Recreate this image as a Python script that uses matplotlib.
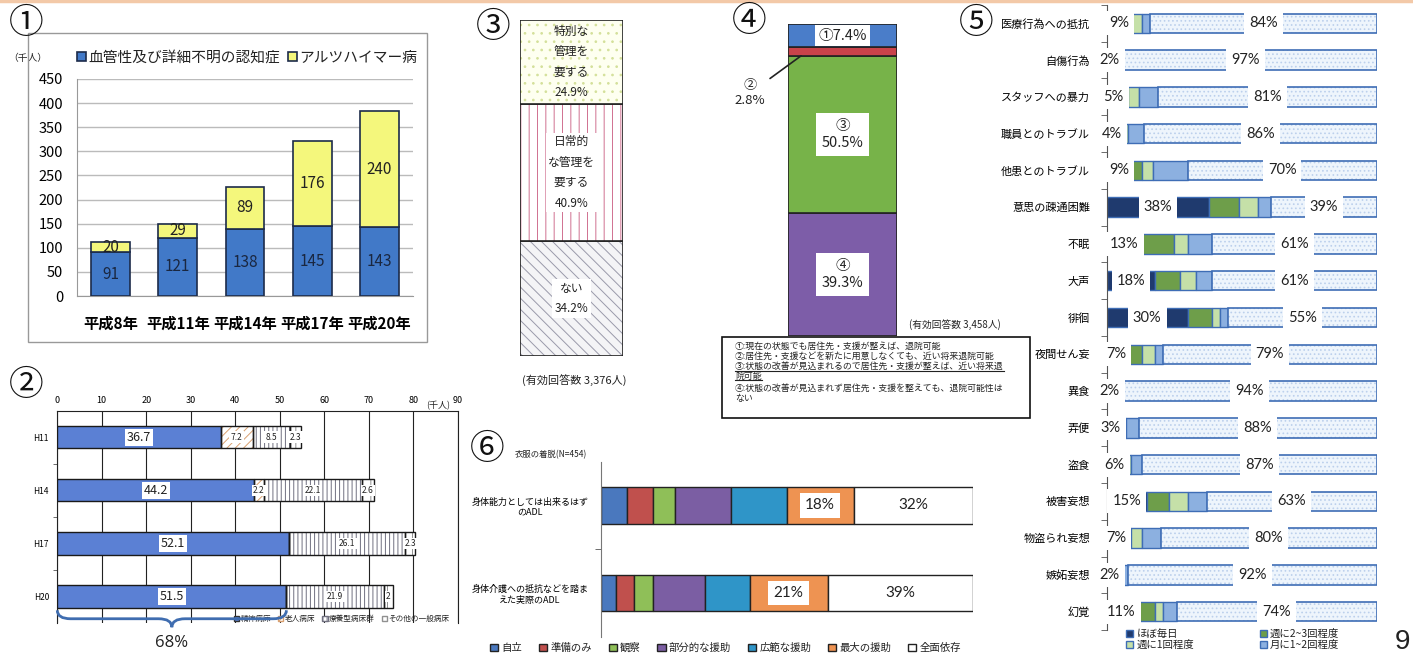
import numpy as np
import matplotlib
matplotlib.use('Agg')
import matplotlib.pyplot as plt
from matplotlib.patches import Patch, Rectangle, PathPatch
from matplotlib.path import Path

plt.rcParams['font.family'] = ['Noto Sans CJK JP', 'DejaVu Sans']
plt.rcParams['hatch.linewidth'] = 0.7
plt.rcParams['text.color'] = '#222222'

W, H = 1413, 657

# ---- data ----
# (1) dementia patients
years = ['平成8年', '平成11年', '平成14年', '平成17年', '平成20年']
vascular = [91, 121, 138, 145, 143]
alzheimer = [20, 29, 89, 176, 240]

# (2) beds
wards = ['H11', 'H14', 'H17', 'H20']
psych = [36.7, 44.2, 52.1, 51.5]
elderly = [7.2, 2.2, 0, 0]
ryoyo = [8.5, 22.1, 26.1, 21.9]
other = [2.3, 2.6, 2.3, 2.0]
ward_names = ['精神病床', '老人病床', '療養型病床群', 'その他の一般病床']

# (3) management needs
care_labels = ['ない', '日常的\nな管理を\n要する', '特別な\n管理を\n要する']
care_pct = [34.2, 40.9, 24.9]

# (4) discharge possibility (bottom -> top)
disch_marks = ['④', '③', '②', '①']
disch_pct = [39.3, 50.5, 2.8, 7.4]
disch_notes = ['①:現在の状態でも居住先・支援が整えば、退院可能',
               '②:居住先・支援などを新たに用意しなくても、近い将来退院可能',
               '③:状態の改善が見込まれるので居住先・支援が整えば、近い将来退',
               '院可能',
               '④:状態の改善が見込まれず居住先・支援を整えても、退院可能性は',
               'ない']

# (5) BPSD frequency
bpsd_items = ['医療行為への抵抗', '自傷行為', 'スタッフへの暴力', '職員とのトラブル',
              '他患とのトラブル', '意思の疎通困難', '不眠', '大声', '徘徊', '夜間せん妄',
              '異食', '弄便', '盗食', '被害妄想', '物盗られ妄想', '嫉妬妄想', '幻覚']
daily = [9, 2, 5, 4, 9, 38, 13, 18, 30, 7, 2, 3, 6, 15, 7, 2, 11]
w23 = [0, 0, 3, 2, 4, 11, 12, 9, 9, 6, 1, 2, 1, 8, 2, 2, 7]
w1 = [4, 0, 4, 2, 4, 7, 5, 6, 3, 5, 1, 2, 2, 7, 4, 2, 3]
m12 = [3, 1, 7, 6, 13, 5, 9, 6, 3, 3, 2, 5, 4, 7, 7, 2, 5]
never = [84, 97, 81, 86, 70, 39, 61, 61, 55, 79, 94, 88, 87, 63, 80, 92, 74]
freq_names = ['ほぼ毎日', '週に2~3回程度', '週に1回程度', '月に1~2回程度']

# (6) ADL dressing
adl_rows = ['身体能力としては出来るはず\nのADL', '身体介護への抵抗などを踏ま\nえた実際のADL']
adl_levels = ['自立', '準備のみ', '観察', '部分的な援助', '広範な援助', '最大の援助', '全面依存']
adl_pot = [7, 7, 6, 15, 15, 18, 32]
adl_act = [4, 5, 5, 14, 12, 21, 39]


def box(x0, y0, x1, y1):
    return [x0 / W, 1 - y1 / H, (x1 - x0) / W, (y1 - y0) / H]


fig = plt.figure(figsize=(W / 100, H / 100), dpi=100)

# ================= (1) =================
ax1 = fig.add_axes(box(77, 79, 413, 296))
x1 = np.arange(len(years))
b1 = ax1.bar(x1, vascular, 0.58, color='#4179C8', edgecolor='#1c2b4a', lw=1.2, zorder=3)
b2 = ax1.bar(x1, alzheimer, 0.58, bottom=vascular, color='#F4F77C', edgecolor='#1c2b4a', lw=1.2, zorder=3)
for i in range(len(years)):
    ax1.text(x1[i], vascular[i] / 2, str(vascular[i]), ha='center', va='center', fontsize=11, color='#1a2740', zorder=4)
    ax1.text(x1[i], vascular[i] + alzheimer[i] / 2, str(alzheimer[i]), ha='center', va='center', fontsize=11, color='#222', zorder=4)
ax1.set_xlim(-0.5, 4.5)
ax1.set_ylim(0, 450)
ax1.set_yticks(range(0, 451, 50))
ax1.set_xticks(x1, years, fontsize=11, fontweight='bold')
ax1.tick_params(axis='y', labelsize=10.5, length=0, pad=10)
ax1.tick_params(axis='x', length=0, pad=14)
ax1.yaxis.grid(True, color='#bbbbbb', lw=1)
ax1.set_axisbelow(True)
for s in ['top', 'right']:
    ax1.spines[s].set_visible(False)
for s in ['left', 'bottom']:
    ax1.spines[s].set_color('#999999')
ax1.legend([b1, b2], ['血管性及び詳細不明の認知症', 'アルツハイマー病'], ncol=2, loc='center left',
           bbox_to_anchor=(0.0, 1 + 21 / 217), frameon=False, fontsize=10.6, handlelength=0.6,
           handleheight=0.6, handletextpad=0.2, columnspacing=0.5, borderaxespad=0, borderpad=0)
ax1.text(-0.09, 1 + 21 / 217, '（千人）', transform=ax1.transAxes, ha='right', va='center', fontsize=7)

# ================= (2) =================
ax2 = fig.add_axes(box(57.3, 410.7, 457.7, 623))
yy2 = np.arange(len(wards))
fill2 = ['#5B80D4', '#FFFFFF', '#FFFFFF', '#FFFFFF']
hcol2 = ['#5B80D4', '#D9A070', '#707080', '#909090']
hat2 = [None, '////', '||||', '||']
left = np.zeros(len(wards))
for k, vals in enumerate([psych, elderly, ryoyo, other]):
    vals = np.array(vals, dtype=float)
    ax2.barh(yy2, vals, left=left, height=0.42, color=fill2[k], edgecolor=hcol2[k], hatch=hat2[k], lw=0, zorder=3)
    ax2.barh(yy2, vals, left=left, height=0.42, fill=False, edgecolor='#1a1a1a', lw=1, zorder=4)
    for i, v in enumerate(vals):
        if v > 0:
            ax2.text(left[i] + v / 2, yy2[i], f'{v:g}', ha='center', va='center',
                     fontsize=9 if k == 0 else 6, zorder=5,
                     bbox=dict(boxstyle='square,pad=0.15', fc='white', ec='none'))
    left += vals
ax2.set_xlim(0, 90)
ax2.set_ylim(3.5, -0.5)
ax2.xaxis.tick_top()
ax2.set_xticks(range(0, 91, 10))
ax2.tick_params(axis='x', labelsize=6.5, length=0, pad=4)
ax2.set_yticks(yy2, wards)
ax2.set_yticks([0.5, 1.5, 2.5], minor=True)
ax2.tick_params(axis='y', which='major', labelsize=6, length=0, pad=6)
ax2.tick_params(axis='y', which='minor', length=3, color='#555')
ax2.xaxis.grid(True, color='#222222', lw=0.8)
ax2.set_axisbelow(True)
ax2.spines['bottom'].set_visible(False)
for s in ['top', 'left', 'right']:
    ax2.spines[s].set_color('#222222')
ax2.text(88.4, 1.0, '(千人)', transform=ax2.get_xaxis_transform(), ha='right', va='bottom', fontsize=6.5)
h2 = [Patch(facecolor=fill2[k], edgecolor=hcol2[k] if k else '#333', hatch=hat2[k]) for k in range(4)]
ax2.legend(h2, ward_names, ncol=4, loc='lower right', bbox_to_anchor=(0.98, 0.0), frameon=False,
           fontsize=5.5, handlelength=0.7, handleheight=0.7, handletextpad=0.2, columnspacing=0.9,
           borderaxespad=0, borderpad=0)

# brace under the psychiatric beds of H20
bx1 = psych[-1]
q = 3.0
yt, ym, yb = 3.26, 3.42, 3.58
verts = [(0, yt), (0, ym), (q, ym), (bx1 / 2 - q, ym), (bx1 / 2, ym), (bx1 / 2, yb),
         (bx1 / 2, ym), (bx1 / 2 + q, ym), (bx1 - q, ym), (bx1, ym), (bx1, yt)]
codes = [Path.MOVETO, Path.CURVE3, Path.CURVE3, Path.LINETO, Path.CURVE3, Path.CURVE3,
         Path.CURVE3, Path.CURVE3, Path.LINETO, Path.CURVE3, Path.CURVE3]
ax2.add_patch(PathPatch(Path(verts, codes), fill=False, ec='#3F6DB0', lw=2, clip_on=False, zorder=6))
ax2.text(bx1 / 2, 3.88, '68%', ha='center', va='center', fontsize=12, family=['Open Sans', 'DejaVu Sans'])

# ================= (3) =================
ax3 = fig.add_axes(box(520, 20, 623, 356))
fill3 = ['#F4F4F6', '#FFFFFF', '#FEFFF0']
hcol3 = ['#9A9AAA', '#D07090', '#D4E09A']
hat3 = ['\\\\\\', '||', '..']
bottom = 0.0
for k, v in enumerate(care_pct):
    ax3.bar(0, v, 1.0, bottom=bottom, color=fill3[k], edgecolor=hcol3[k], hatch=hat3[k], lw=0)
    ax3.bar(0, v, 1.0, bottom=bottom, fill=False, edgecolor='#222', lw=1.2)
    ax3.text(0, bottom + v / 2, f'{care_labels[k]}\n{v}%', ha='center', va='center', fontsize=8.5,
             linespacing=1.75, bbox=dict(boxstyle='square,pad=0.2', fc='white', ec='none') if k < 2 else None)
    bottom += v
ax3.set_xlim(-0.5, 0.5)
ax3.set_ylim(0, 100)
ax3.axis('off')

# ================= (4) =================
ax4 = fig.add_axes(box(788, 24, 897, 336))
col4 = ['#7D5DA8', '#77B349', '#C9434A', '#4A7DC9']
bottom = 0.0
for k, v in enumerate(disch_pct):
    ax4.bar(0, v, 1.0, bottom=bottom, color=col4[k], edgecolor='#222', lw=1.2)
    if disch_marks[k] == '①':
        ax4.text(0, bottom + v / 2, f'{disch_marks[k]}{v}%', ha='center', va='center', fontsize=10.5,
                 bbox=dict(boxstyle='square,pad=0.25', fc='white', ec='none'))
    elif disch_marks[k] == '②':
        ax4.annotate(f'{disch_marks[k]}\n{v}%', xy=(-0.38, bottom), xytext=(-37, -27),
                     textcoords='offset points', ha='center', va='center', fontsize=9.5,
                     arrowprops=dict(arrowstyle='-', color='#222', lw=1.2, shrinkA=2, shrinkB=0),
                     annotation_clip=False)
    else:
        ax4.text(0, bottom + v / 2, f'{disch_marks[k]}\n{v}%', ha='center', va='center', fontsize=10.5,
                 linespacing=1.3, bbox=dict(boxstyle='square,pad=0.4', fc='white', ec='none'))
    bottom += v
ax4.set_xlim(-0.5, 0.5)
ax4.set_ylim(0, 100)
ax4.axis('off')

# ================= (5) =================
ax5 = fig.add_axes(box(1106.7, 4.9, 1376.5, 630.1))
yy5 = np.arange(len(bpsd_items))
col5 = ['#1F3A6E', '#6E9E4A', '#C5E0A8', '#8CB0E0']
left = np.zeros(len(bpsd_items))
for k, vals in enumerate([daily, w23, w1, m12]):
    vals = np.array(vals, dtype=float)
    ax5.barh(yy5, vals, left=left, height=0.53, color=col5[k], edgecolor='#3E6DB5', lw=1)
    left += vals
nv = np.array(never, dtype=float)
ax5.barh(yy5, nv, left=left, height=0.53, color='#EEF5FC', edgecolor='#BCD0EC', hatch='....', lw=0)
ax5.barh(yy5, nv, left=left, height=0.53, fill=False, edgecolor='#3E6DB5', lw=1.2)
pct_font = ['Lato', 'DejaVu Sans']
for i in range(len(bpsd_items)):
    ax5.text(daily[i] / 2, yy5[i], f'{daily[i]}%', ha='center', va='center', fontsize=10.5,
             family=pct_font, bbox=dict(boxstyle='square,pad=0.35', fc='white', ec='none'), zorder=5)
    ax5.text(left[i] + nv[i] / 2, yy5[i], f'{never[i]}%', ha='center', va='center', fontsize=10.5,
             family=pct_font, bbox=dict(boxstyle='square,pad=0.35', fc='white', ec='none'), zorder=5)
ax5.set_xlim(0, 100)
ax5.set_ylim(len(bpsd_items) - 0.5, -0.5)
ax5.set_xticks([])
ax5.set_yticks(yy5, bpsd_items)
ax5.set_yticks(np.arange(len(bpsd_items) + 1) - 0.5, minor=True)
ax5.tick_params(axis='y', which='major', length=0, pad=12, labelsize=8)
ax5.tick_params(axis='y', which='minor', length=4, color='#555')
for s in ['top', 'right', 'bottom']:
    ax5.spines[s].set_visible(False)
ax5.spines['left'].set_color('#555555')
ax5.patch.set_alpha(0)
h5 = [Patch(facecolor=c, edgecolor='#3E6DB5') for c in col5]
fig.legend([h5[0], h5[2], h5[1], h5[3]], [freq_names[0], freq_names[2], freq_names[1], freq_names[3]],
           ncol=2, loc='upper left', bbox_to_anchor=(1126 / W, 1 - 629 / H), frameon=False, fontsize=7.5,
           handlelength=0.7, handleheight=0.7, handletextpad=0.3, columnspacing=6.3, labelspacing=0.1,
           borderpad=0, borderaxespad=0)

# ================= (6) =================
ax6 = fig.add_axes(box(600.7, 461.7, 972.7, 636.7))
yy6 = np.arange(len(adl_rows))
col6 = ['#4A78BE', '#C0504D', '#8FBF58', '#7B5EA3', '#2F95C8', '#EE9352', '#FFFFFF']
left = np.zeros(len(adl_rows))
h6 = []
for k, lv in enumerate(adl_levels):
    vals = np.array([adl_pot[k], adl_act[k]], dtype=float)
    h6.append(ax6.barh(yy6, vals, left=left, height=0.42, color=col6[k], edgecolor='#222', lw=1))
    if k >= 5:
        for i in range(len(adl_rows)):
            ax6.text(left[i] + vals[i] / 2, yy6[i], f'{vals[i]:.0f}%', ha='center', va='center',
                     fontsize=11, family=pct_font,
                     bbox=dict(boxstyle='square,pad=0.35', fc='white', ec='none'))
    left += vals
ax6.set_xlim(0, 100)
ax6.set_ylim(1.5, -0.5)
ax6.set_xticks([])
ax6.set_yticks(yy6, adl_rows, multialignment='center')
ax6.set_yticks([0.5], minor=True)
ax6.tick_params(axis='y', which='major', length=0, pad=9, labelsize=6.5)
ax6.tick_params(axis='y', which='minor', length=4, color='#555')
for s in ['top', 'right', 'bottom']:
    ax6.spines[s].set_visible(False)
ax6.spines['left'].set_color('#777777')
ax6.patch.set_alpha(0)
fig.legend(h6, adl_levels, ncol=7, loc='center left', bbox_to_anchor=(490 / W, 1 - 648 / H),
           frameon=False, fontsize=7.5, handlelength=0.8, handleheight=0.8, handletextpad=0.3,
           columnspacing=1.6, borderpad=0, borderaxespad=0)

# ================= overlay: titles, frames, notes =================
ov = fig.add_axes([0, 0, 1, 1], zorder=10)
ov.set_xlim(0, W)
ov.set_ylim(H, 0)
ov.axis('off')
ov.patch.set_alpha(0)

ov.plot([0, W], [1, 1], color='#F3C9A8', lw=2.5)
ov.add_patch(Rectangle((28, 33), 399, 309, fill=False, ec='#999999', lw=1))
for mark, (cx, cy) in zip('①②③④⑤⑥', [(26.5, 23), (26.5, 385), (493, 27.5), (749, 21),
                                         (976, 23.5), (487, 450)]):
    ov.text(cx, cy, mark, ha='center', va='center', fontsize=25, color='#111')

ov.text(574, 381, '(有効回答数 3,376人)', ha='center', va='center', fontsize=8)
ov.text(955, 325, '(有効回答数 3,458人)', ha='center', va='center', fontsize=7)
ov.add_patch(Rectangle((722.3, 336.7), 307.7, 81.6, fc='white', ec='#111', lw=1.2))
notes = [ov.text(735, yl, line, ha='left', va='center', fontsize=6.4)
         for line, yl in zip(disch_notes, [346.5, 356.5, 366.5, 376, 388, 398])]
# underline for the third note
fig.canvas.draw()
rend = fig.canvas.get_renderer()
inv = ov.transData.inverted()
for t in notes[2:4]:
    bb = t.get_window_extent(rend)
    (ux0, uy0), (ux1, _) = inv.transform([(bb.x0, bb.y0), (bb.x1, bb.y1)])
    ov.plot([ux0, ux1], [uy0 - 0.5, uy0 - 0.5], color='#222', lw=0.8)
ov.text(515, 455, '衣服の着脱(N=454)', ha='left', va='center', fontsize=6)
ov.text(1403, 642, '9', ha='center', va='center', fontsize=20, family=['Liberation Sans', 'DejaVu Sans'])

fig.savefig('out.png', dpi=100)
